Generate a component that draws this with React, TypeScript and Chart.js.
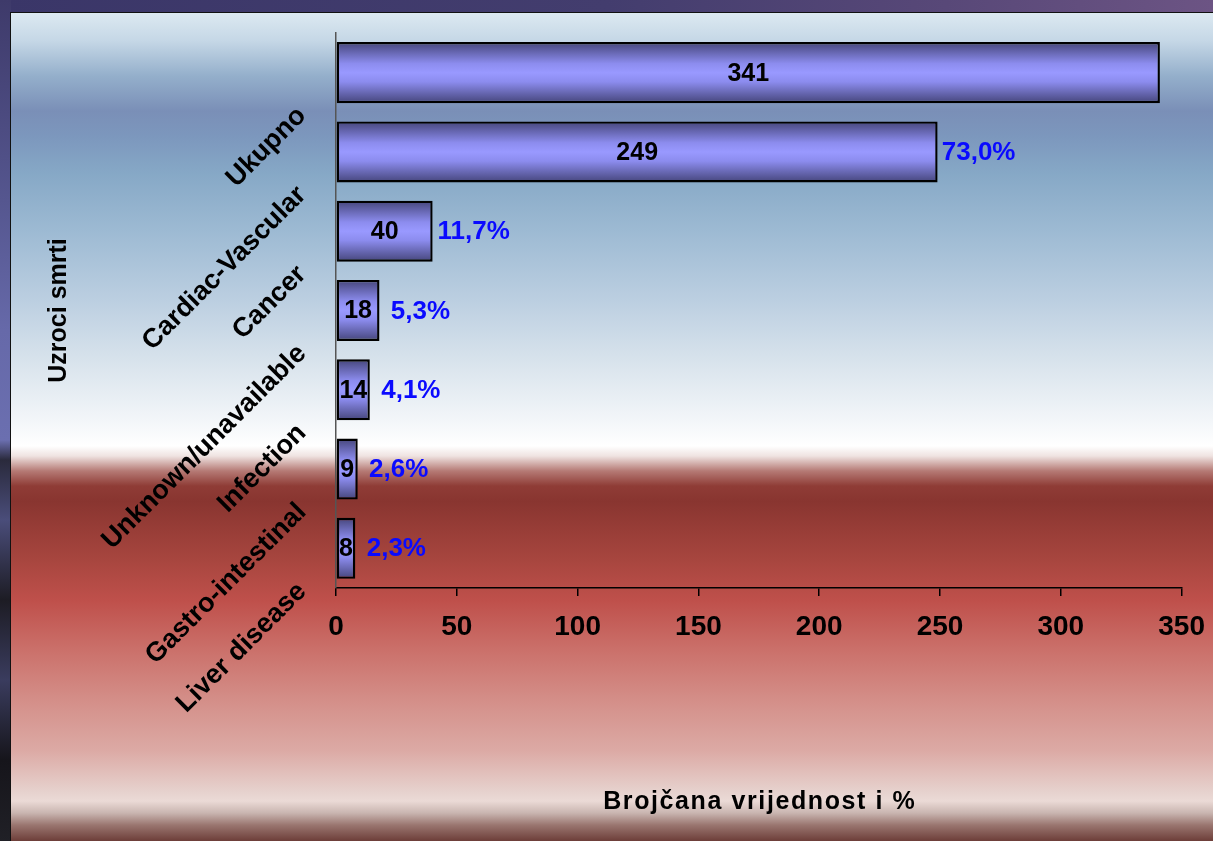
import React, { useEffect, useRef } from 'react';
import { Chart, registerables } from 'chart.js';

Chart.register(...registerables);

const categories = [
  'Ukupno',
  'Cardiac-Vascular',
  'Cancer',
  'Unknown/unavailable',
  'Infection',
  'Gastro-intestinal',
  'Liver disease',
];
const counts = [341, 249, 40, 18, 14, 9, 8];
const percentLabels = ['', '73,0%', '11,7%', '5,3%', '4,1%', '2,6%', '2,3%'];
const xMin = 0;
const xMax = 350;
const xStep = 50;
const xAxisTitle = 'Brojčana vrijednost i %';
const yAxisTitle = 'Uzroci smrti';

const FONT = '"Liberation Sans", Arial, Helvetica, sans-serif';

const panelBg =
  'linear-gradient(to bottom,' +
  ['#dce9f1 0px', '#c5d7e6 28px', '#94afcb 63px', '#7a8fb7 98px', '#7c97bd 123px', '#86a8c6 160px',
   '#9dbad3 218px', '#bccfe1 288px', '#d8e3ec 348px', '#f3f6f9 408px', '#ffffff 433px', '#efe3e1 443px',
   '#b57a75 458px', '#8f3c36 473px', '#893530 488px', '#a8463f 548px', '#bf504b 588px', '#cb716b 638px',
   '#d48f89 688px', '#dcaaa5 738px', '#e6d1cd 778px', '#ebdad6 788px', '#c9b5b0 800px', '#9a7670 812px',
   '#6a3a35 829px'].join(',') + ')';

const leftStripBg =
  'linear-gradient(to bottom, #3e3a6a 0px, #55568f 200px, #6669a9 330px, #6b6fb0 440px, #2a2a3c 460px, #4a4d7a 520px, #1d1c24 600px, #3a3c5e 680px, #16151b 760px, #202026 841px)';

const topStripBg =
  'linear-gradient(to right, #3a3668 0%, #433d6e 50%, #584878 78%, #6c5484 100%)';

const categoryLabelPlugin = {
  id: 'categoryLabels',
  afterDraw(chart: any) {
    const { ctx, scales, chartArea } = chart;
    const y = scales.y;
    const x = scales.x;
    ctx.save();
    ctx.font = `bold 27px ${FONT}`;
    ctx.fillStyle = '#000';
    ctx.textAlign = 'right';
    ctx.textBaseline = 'middle';
    categories.forEach((label, i) => {
      const py = y.getPixelForValue(i);
      const px = x.left;
      ctx.save();
      ctx.translate(px - 34, py + 39);
      ctx.rotate(-Math.PI / 4);
      ctx.fillText(label, 0, 0);
      ctx.restore();
    });
    // x axis title, with the slide's wide letter spacing
    ctx.font = `bold 25px ${FONT}`;
    (ctx as any).letterSpacing = '1.6px';
    ctx.textAlign = 'center';
    ctx.textBaseline = 'middle';
    ctx.fillText(xAxisTitle, (chartArea.left + chartArea.right) / 2 + 1, 802);
    ctx.restore();
  },
};

const valueLabelPlugin = {
  id: 'valueLabels',
  afterDatasetsDraw(chart: any) {
    const { ctx } = chart;
    const meta = chart.getDatasetMeta(0);
    ctx.save();
    ctx.textBaseline = 'middle';
    ctx.textAlign = 'center';
    meta.data.forEach((bar: any, i: number) => {
      const { x, y, base } = bar.getProps(['x', 'y', 'base'], true);
      ctx.font = `bold 25px ${FONT}`;
      ctx.fillStyle = '#000';
      ctx.fillText(String(counts[i]), (x + base) / 2, y + 1);
      if (percentLabels[i]) {
        ctx.font = `bold 26px ${FONT}`;
        ctx.fillStyle = '#0a0aff';
        ctx.fillText(percentLabels[i], x + 41, y + 1);
      }
    });
    ctx.restore();
  },
};

export default function App() {
  const canvasRef = useRef<HTMLCanvasElement | null>(null);

  useEffect(() => {
    if (!canvasRef.current) return;
    const chart = new Chart(canvasRef.current, {
      type: 'bar',
      data: {
        labels: categories,
        datasets: [
          {
            data: counts,
            backgroundColor: (c: any) => {
              const ch = c.chart;
              const ys = ch.scales && ch.scales.y;
              if (!ys || c.dataIndex === undefined) return '#9999ff';
              const center = ys.getPixelForValue(c.dataIndex);
              const half = (ys.height / categories.length) * 0.77 / 2;
              if (!isFinite(center) || !isFinite(half) || half <= 0) return '#9999ff';
              const g = ch.ctx.createLinearGradient(0, center - half, 0, center + half);
              g.addColorStop(0, '#45457a');
              g.addColorStop(0.35, '#8c8cee');
              g.addColorStop(0.5, '#9999ff');
              g.addColorStop(0.65, '#8c8cee');
              g.addColorStop(1, '#45457a');
              return g;
            },
            borderColor: '#000',
            borderWidth: 2.4,
            borderSkipped: false,
            categoryPercentage: 1,
            barPercentage: 0.77,
          },
        ],
      },
      options: {
        indexAxis: 'y',
        animation: false,
        responsive: false,
        maintainAspectRatio: false,
        layout: { padding: { left: 0, top: 33, right: 23, bottom: 182 } },
        plugins: {
          legend: { display: false },
          tooltip: { enabled: false },
          title: { display: false },
        },
        scales: {
          x: {
            type: 'linear',
            min: xMin,
            max: xMax,
            ticks: {
              stepSize: xStep,
              color: '#000',
              padding: 8,
              font: { family: FONT, size: 28, weight: 'bold', lineHeight: 1.68 },
            },
            grid: {
              display: true,
              drawOnChartArea: false,
              drawTicks: true,
              tickLength: 8,
              color: '#000',
              lineWidth: 1.5,
            },
            border: { display: true, color: '#000', width: 1.5 },
            title: { display: false },
          },
          y: {
            type: 'category',
            offset: true,
            ticks: { display: false },
            grid: { display: false },
            border: { display: true, color: '#555', width: 1.5 },
            title: {
              display: true,
              text: yAxisTitle,
              color: '#000',
              font: { family: FONT, size: 25, weight: 'bold' },
              padding: { top: 44, bottom: 254 },
            },
          },
        },
      },
      plugins: [valueLabelPlugin, categoryLabelPlugin],
    } as any);
    return () => chart.destroy();
  }, []);

  return (
    <div
      style={{
        position: 'absolute',
        left: 0,
        top: 0,
        width: 1213,
        height: 841,
        overflow: 'hidden',
        background: topStripBg,
      }}
    >
      <div
        style={{
          position: 'absolute',
          left: 0,
          top: 0,
          width: 11,
          height: 841,
          background: leftStripBg,
        }}
      />
      <div
        style={{
          position: 'absolute',
          left: 10,
          top: 12,
          width: 1203,
          height: 829,
          boxSizing: 'border-box',
          borderTop: '1.5px solid #111',
          borderLeft: '1.5px solid #111',
          background: panelBg,
        }}
      />
      <canvas
        ref={canvasRef}
        width={1213}
        height={841}
        style={{ position: 'absolute', left: 0, top: 0, width: 1213, height: 841 }}
      />
    </div>
  );
}
